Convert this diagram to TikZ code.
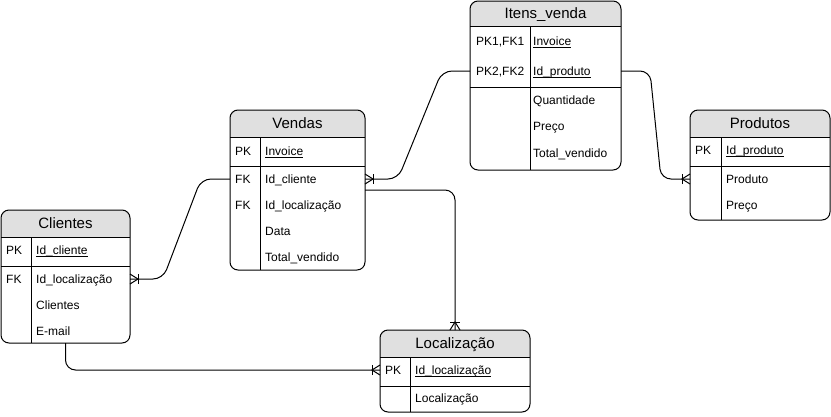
\documentclass[tikz,border=0pt]{standalone}
\usepackage{fontspec}
\setmainfont{Liberation Sans}
\definecolor{hdrfill}{RGB}{224,224,224}
\tikzset{
  tablebox/.style={draw, line width=1pt, rounded corners=8pt, inner sep=0pt, outer sep=0pt},
  tline/.style={line width=1pt},
  hdrtxt/.style={font=\fontsize{15}{18}\selectfont, inner sep=0pt, text height=10.7pt, text depth=0pt},
  rowtxt/.style={font=\fontsize{12}{14}\selectfont, anchor=west, inner sep=0pt, text height=8.6pt, text depth=0pt},
  conn/.style={line width=1pt, rounded corners=10pt},
  crow/.pic={\draw[line width=1pt] (0,-5) -- (8,0) -- (0,5); \draw[line width=1pt] (8,-5) -- (8,5);}
}
% #1 name, #2 left, #3 top, #4 right, #5 bottom, #6 header y, #7 divider y, #8 column x, #9 title
\newcommand{\ertable}[9]{%
  \begin{scope}
    \clip (#2-1,#3-1) rectangle (#4+1,#6);
    \fill[hdrfill, rounded corners=8pt] (#2,#3) rectangle (#4,#5);
  \end{scope}
  \draw[tline] (#2,#6) -- (#4,#6);
  \draw[tline] (#2,#7) -- (#4,#7);
  \draw[tline] (#8,#6) -- (#8,#5);
  \node[tablebox, minimum width={#4-#2}, minimum height={#5-#3}] (#1) at ({(#2+#4)/2},{(#3+#5)/2}) {};
  \node[hdrtxt] (#1-title) at ({(#2+#4)/2},{(#3+#6)/2}) {#9};
}
\newcommand{\pkfield}[1]{\underline{\smash{#1}}}
\begin{document}
\begin{tikzpicture}[x=1pt,y=-1pt]
\useasboundingbox (0,0) rectangle (831,416);

% Clientes
\ertable{cli}{1}{210}{130}{343}{237}{266}{31}{Clientes}
\node[rowtxt] (cli-k1) at (6,250) {PK};
\node[rowtxt] (cli-r1) at (36,250) {\pkfield{Id\_cliente}};
\node[rowtxt] (cli-k2) at (6,279) {FK};
\node[rowtxt] (cli-r2) at (36,279) {Id\_localização};
\node[rowtxt] (cli-r3) at (36,305) {Clientes};
\node[rowtxt] (cli-r4) at (36,331) {E-mail};

% Vendas
\ertable{ven}{230}{110}{365}{270}{137}{166}{260}{Vendas}
\node[rowtxt] (ven-k1) at (235,151) {PK};
\node[rowtxt] (ven-r1) at (265,151) {\pkfield{Invoice}};
\node[rowtxt] (ven-k2) at (235,179) {FK};
\node[rowtxt] (ven-r2) at (265,179) {Id\_cliente};
\node[rowtxt] (ven-k3) at (235,205) {FK};
\node[rowtxt] (ven-r3) at (265,205) {Id\_localização};
\node[rowtxt] (ven-r4) at (265,231) {Data};
\node[rowtxt] (ven-r5) at (265,257) {Total\_vendido};

% Itens_venda
\ertable{itn}{470}{1}{621}{170}{26}{87}{530}{Itens\_venda}
\node[rowtxt] (itn-k1) at (476,41) {PK1,FK1};
\node[rowtxt] (itn-r1) at (533,41) {\pkfield{Invoice}};
\node[rowtxt] (itn-k2) at (476,71) {PK2,FK2};
\node[rowtxt] (itn-r2) at (533,71) {\pkfield{Id\_produto}};
\node[rowtxt] (itn-r3) at (533,100) {Quantidade};
\node[rowtxt] (itn-r4) at (533,126) {Preço};
\node[rowtxt] (itn-r5) at (533,153) {Total\_vendido};

% Produtos
\ertable{prd}{690}{110}{830}{220}{137}{166}{721}{Produtos}
\node[rowtxt] (prd-k1) at (695,150) {PK};
\node[rowtxt] (prd-r1) at (726,150) {\pkfield{Id\_produto}};
\node[rowtxt] (prd-r2) at (726,179) {Produto};
\node[rowtxt] (prd-r3) at (726,205) {Preço};

% Localizacao
\ertable{loc}{380}{330}{530}{412}{357}{386}{410}{Localização}
\node[rowtxt] (loc-k1) at (385,370) {PK};
\node[rowtxt] (loc-r1) at (415,370) {\pkfield{Id\_localização}};
\node[rowtxt] (loc-r2) at (415,398) {Localização};

% connectors
\draw[conn] (cli.east |- cli-r2) -- (163,279) -- (201,179) -- (ven.west |- ven-r2);
\path (cli.east |- cli-r2) pic {crow};

\draw[conn] (ven.east |- ven-r2) -- (398,179) -- (442,71) -- (itn.west |- itn-r2);
\path (ven.east |- ven-r2) pic {crow};

\draw[conn] (itn.east |- itn-r2) -- (650,71) -- (661,179) -- (prd.west |- prd-r2);
\path (prd.west |- prd-r2) pic[rotate=180] {crow};

\draw[conn] (ven.east) -- (loc.north |- ven.east) -- (loc.north);
\path (loc.north) pic[rotate=90] {crow};

\draw[conn] (cli.south) -- (cli.south |- loc-r1) -- (loc.west |- loc-r1);
\path (loc.west |- loc-r1) pic[rotate=180] {crow};
\end{tikzpicture}
\end{document}
